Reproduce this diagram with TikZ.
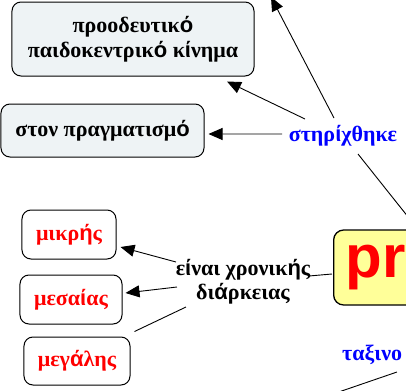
\documentclass[tikz,border=0pt]{standalone}
\usepackage{fontspec}
\setmainfont{Liberation Serif}
\newfontfamily\accfont{Liberation Sans}
\usetikzlibrary{arrows.meta}
\newcommand\Ak[1]{{\accfont\bfseries #1}}
\definecolor{boxgray}{RGB}{238,243,245}
\definecolor{mainyellow}{RGB}{255,255,153}
\definecolor{txtblue}{RGB}{0,0,255}
\definecolor{txtred}{RGB}{255,0,0}
\tikzset{
  cbox/.style={draw=black, line width=1bp, rounded corners=9bp, inner sep=0pt, font=\fontsize{22bp}{25bp}\selectfont\bfseries, align=center},
  graybox/.style={cbox, fill=boxgray},
  redbox/.style={cbox, fill=white, text=txtred},
  mainbox/.style={draw=black, line width=1.3bp, rounded corners=10bp, fill=mainyellow, text=txtred, font=\fontsize{60bp}{64bp}\selectfont\accfont\bfseries},
  linktxt/.style={inner sep=1bp, font=\fontsize{22bp}{24bp}\selectfont\bfseries, align=center},
  conn/.style={draw=black, line width=0.9bp},
  arr/.style={conn, -{Triangle[length=14bp,width=12bp]}},
}
\begin{document}
\begin{tikzpicture}[x=1bp,y=-1bp]
\useasboundingbox (0,0) rectangle (406,391);
\clip (0,0) rectangle (406,391);
% nodes
\node[graybox, minimum width=242bp, minimum height=74bp] (top) at (133,39) {προοδευτικ\Ak{ό}\\παιδοκεντρικ\Ak{ό} κ\Ak{ί}νημα};
\node[graybox, minimum width=203bp, minimum height=53bp] (prag) at (102.5,130.5) {στον πραγματισμ\Ak{ό}};
\node[linktxt, text=txtblue] (stir) at (343,136) {στηρ\Ak{ί}χθηκε};
\node[mainbox, anchor=west, text width=140bp, align=left, inner xsep=12bp, minimum height=75bp] (main) at (333,267.5) {pr};
\node[linktxt, text=black] (chron) at (243,282) {ε\Ak{ί}ναι χρονικ\Ak{ή}ς\\δι\Ak{ά}ρκειας};
\node[redbox, minimum width=94bp, minimum height=49bp] (mikr) at (69,234.5) {μικρ\Ak{ή}ς};
\node[redbox, minimum width=102bp, minimum height=49bp] (mesa) at (71,299.5) {μεσα\Ak{ί}ας};
\node[redbox, minimum width=106bp, minimum height=48bp] (meg) at (77,361) {μεγ\Ak{ά}λης};
\node[linktxt, text=txtblue, anchor=west] (tax) at (341,355) {ταξινο};
\coordinate (upout) at (271,-3);
\coordinate (downout) at (330,395);
% connectors
\draw[arr] ([shift={(-38,-17)}]stir.center) -- ([shift={(94,5)}]top.south);
\draw[arr] ([shift={(-9,-18)}]stir.center) -- (upout);
\draw[arr] ([shift={(-61,-2)}]stir.center) -- ([shift={(4,3.5)}]prag.east);
\draw[conn] ([shift={(15,18)}]stir.center) -- ([shift={(85,0)}]main.north west);
\draw[conn] ([shift={(66,-6)}]chron.center) -- ([shift={(-1,6.5)}]main.west);
\draw[arr] ([shift={(-67,-20)}]chron.center) -- ([shift={(4,12.5)}]mikr.east);
\draw[arr] ([shift={(-66,5)}]chron.center) -- ([shift={(3,-6.5)}]mesa.east);
\draw[conn] ([shift={(-57,25)}]chron.center) -- ([shift={(4,-5)}]meg.north east);
\draw[conn] ([shift={(56,17)}]tax.west) -- (downout);
\end{tikzpicture}
\end{document}
